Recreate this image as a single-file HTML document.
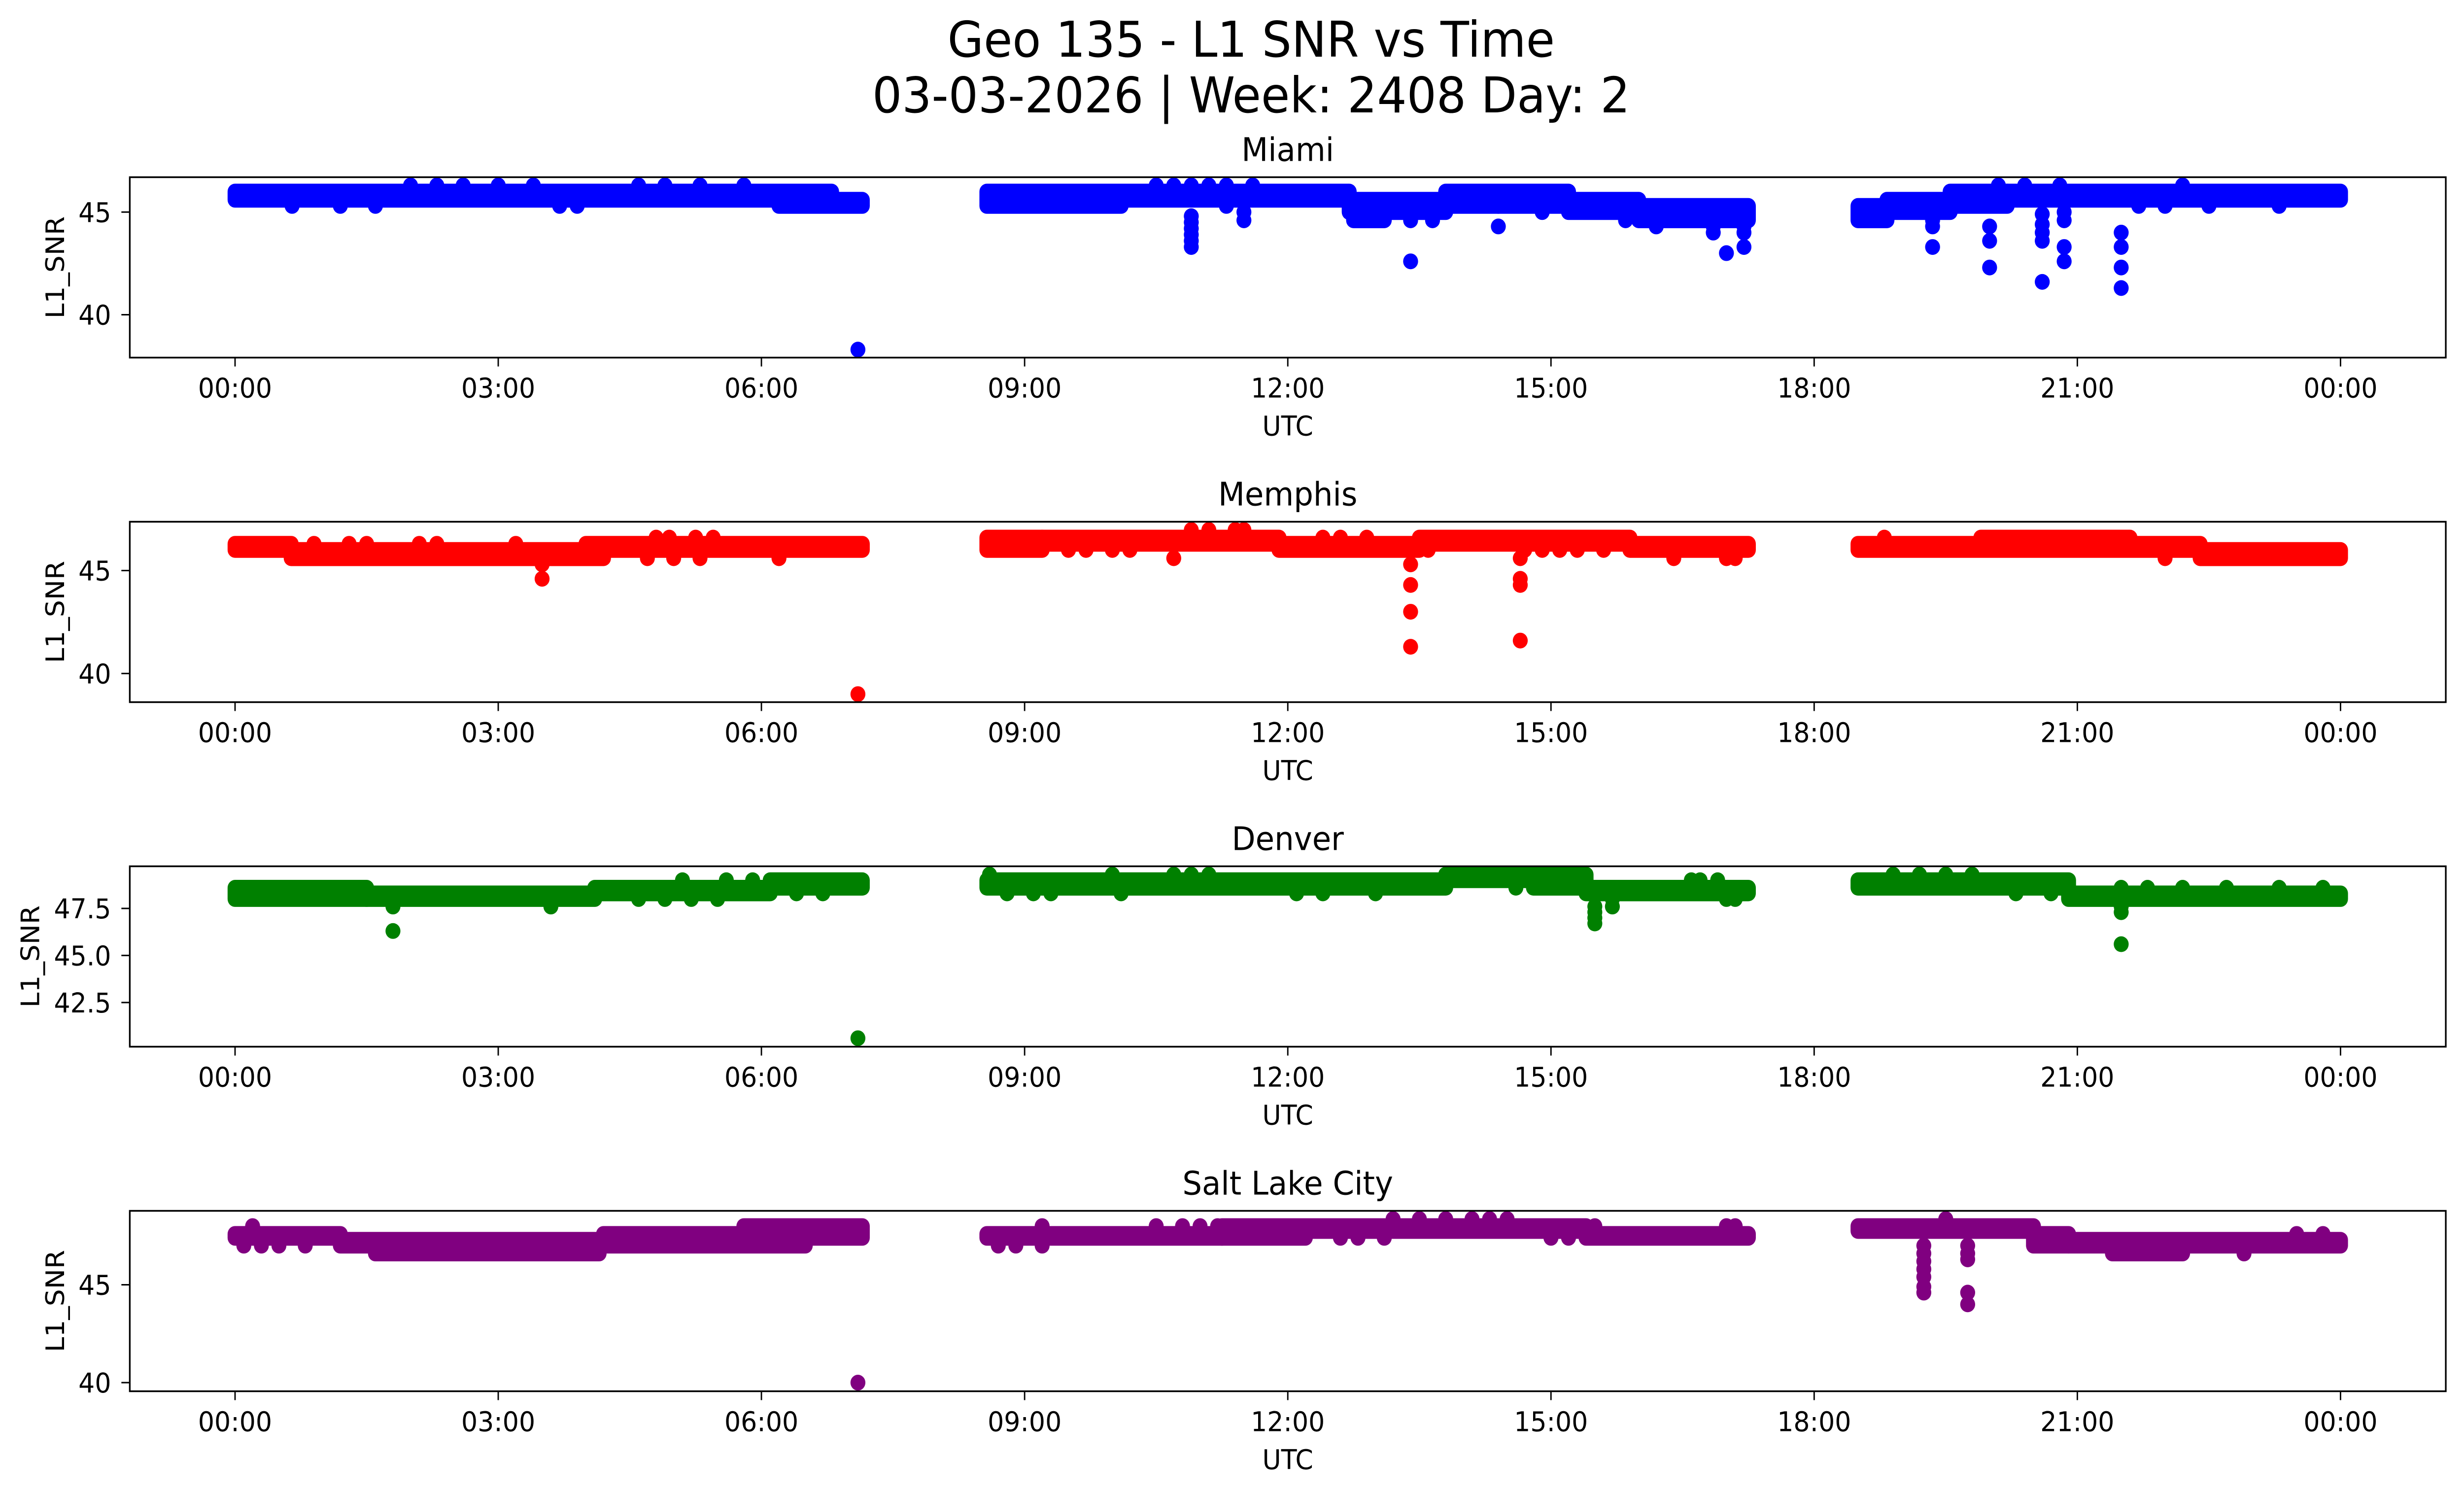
<!DOCTYPE html>
<html><head><meta charset="utf-8">
<style>
html,body{margin:0;padding:0;background:#fff;overflow:hidden;width:100vw;height:100vh;}
svg{display:block;width:100vw;height:100vh;}
text{font-family:"DejaVu Sans","Liberation Sans",sans-serif;fill:#000;}
</style></head>
<body>
<svg id="fig" viewBox="0 0 5278 3033" preserveAspectRatio="none" xmlns="http://www.w3.org/2000/svg">
<rect width="5278" height="3033" fill="#fff"/>
<text x="2680" y="115" font-size="100" text-anchor="middle">Geo 135 - L1 SNR vs Time</text>
<text x="2680" y="228" font-size="100" text-anchor="middle">03-03-2026 | Week: 2408 Day: 2</text>
</svg>
<script>
// ---- data ----
const stations = ["Miami", "Memphis", "Denver", "Salt Lake City"];
const colors = ["#0000ff", "#ff0000", "#008000", "#800080"];
const yLimits = [[37.91, 46.70], [38.61, 47.37], [40.15, 49.74], [39.56, 48.78]];
const yTicks = [[40, 45], [40, 45], [42.5, 45.0, 47.5], [40, 45]];
const yTickLabels = [["40", "45"], ["40", "45"], ["42.5", "45.0", "47.5"], ["40", "45"]];
const xTickHours = [0, 3, 6, 9, 12, 15, 18, 21, 24];
const xTickLabels = ["00:00", "03:00", "06:00", "09:00", "12:00", "15:00", "18:00", "21:00", "00:00"];

// bands: [startHour, endHour, lowSNR, highSNR] (dense point clusters)
const miamiBands = [[0,6.8,45.6,46.0],[6.2,7.15,45.3,45.6],[8.57,12.7,45.6,46.0],[8.57,10.1,45.3,45.6],[12.7,13.8,45.0,45.6],[12.75,13.1,44.6,45.0],[13.8,15.2,45.3,46.0],[15.2,16.0,45.0,45.6],[16.0,17.25,44.6,45.3],[18.5,18.83,44.6,45.3],[18.83,19.55,45.0,45.6],[19.55,20.2,45.3,46.0],[20.2,24,45.6,46.0]];
const memphisBands = [[0,0.64,46.0,46.3],[0.64,4.2,45.6,46.0],[4.0,7.15,46.0,46.3],[8.57,9.2,46.0,46.6],[9.2,11.9,46.3,46.6],[11.9,13.5,46.0,46.3],[13.5,15.9,46.3,46.6],[15.9,17.25,46.0,46.3],[18.5,22.4,46.0,46.3],[19.9,21.6,46.3,46.6],[22.4,24,45.6,46.0]];
const denverBands = [[0,1.5,48.0,48.6],[1.5,4.1,48.0,48.3],[4.1,6.1,48.3,48.6],[6.1,7.15,48.6,49.0],[8.57,13.8,48.6,49.0],[13.8,15.4,49.0,49.3],[14.8,15.4,48.6,49.0],[15.4,17.25,48.3,48.6],[18.5,20.9,48.6,49.0],[20.9,24,48.0,48.3]];
const slcBands = [[0,1.2,47.4,47.6],[1.2,4.2,47.0,47.3],[1.6,4.15,46.6,47.0],[4.2,6.5,47.0,47.6],[5.8,7.15,47.4,48.0],[8.57,11.25,47.4,47.6],[11.25,15.4,47.75,48.0],[11.25,12.2,47.4,47.75],[15.4,17.25,47.4,47.6],[18.5,20.5,47.75,48.0],[20.5,20.9,47.0,47.6],[20.9,24,47.0,47.3],[21.4,22.2,46.6,47.0]];

// individual points: [hour, SNR]
const miamiPoints = [[2.0,46.3],[2.3,46.3],[2.6,46.3],[3.0,46.3],[3.4,46.3],[4.6,46.3],[4.9,46.3],[5.3,46.3],[5.8,46.3],[10.5,46.3],[10.7,46.3],[10.9,46.3],[11.1,46.3],[11.3,46.3],[11.6,46.3],[20.1,46.3],[20.4,46.3],[20.8,46.3],[22.2,46.3],[0.65,45.3],[1.2,45.3],[1.6,45.3],[3.7,45.3],[3.9,45.3],[11.3,45.3],[14.4,45.3],[21.7,45.3],[22.0,45.3],[22.5,45.3],[23.3,45.3],[7.1,38.3],[10.9,44.8],[10.9,44.5],[10.9,44.2],[10.9,43.9],[10.9,43.6],[10.9,43.3],[11.5,45.0],[11.5,44.6],[13.4,44.6],[13.4,44.9],[13.4,42.6],[13.65,44.6],[14.4,44.3],[14.9,45.0],[15.85,44.6],[16.2,44.3],[16.85,44.0],[16.85,44.3],[17.0,43.0],[17.2,43.3],[17.2,44.3],[17.2,44.0],[19.35,44.6],[19.35,44.3],[19.35,43.3],[20.0,44.3],[20.0,43.6],[20.0,42.3],[20.6,44.9],[20.6,44.4],[20.6,44.0],[20.6,43.6],[20.6,41.6],[20.85,45.0],[20.85,44.6],[20.85,43.3],[20.85,42.6],[21.5,44.0],[21.5,43.3],[21.5,42.3],[21.5,41.3]];
const memphisPoints = [[0.9,46.3],[1.3,46.3],[1.5,46.3],[2.1,46.3],[2.3,46.3],[3.2,46.3],[4.8,46.6],[4.95,46.6],[5.25,46.6],[5.45,46.6],[12.4,46.6],[12.6,46.6],[12.9,46.6],[18.8,46.6],[10.9,46.97],[11.1,46.97],[11.4,46.97],[11.5,46.97],[4.7,45.6],[5.0,45.6],[5.3,45.6],[6.2,45.6],[10.7,45.6],[16.4,45.6],[17.0,45.6],[17.1,45.6],[22.0,45.6],[9.5,46.0],[9.7,46.0],[10.0,46.0],[10.2,46.0],[13.6,46.0],[14.7,46.0],[14.9,46.0],[15.1,46.0],[15.3,46.0],[15.6,46.0],[3.5,45.3],[3.5,44.6],[7.1,39.0],[13.4,45.3],[13.4,44.3],[13.4,43.0],[13.4,41.3],[14.65,45.6],[14.65,44.6],[14.65,44.3],[14.65,41.6]];
const denverPoints = [[5.1,49.0],[5.6,49.0],[5.9,49.0],[16.6,49.0],[16.7,49.0],[16.9,49.0],[8.6,49.3],[10.0,49.3],[10.7,49.3],[10.9,49.3],[11.1,49.3],[18.9,49.3],[19.2,49.3],[19.5,49.3],[19.8,49.3],[6.4,48.3],[6.7,48.3],[8.8,48.3],[9.1,48.3],[9.3,48.3],[10.1,48.3],[12.1,48.3],[12.4,48.3],[13.0,48.3],[20.3,48.3],[20.7,48.3],[4.6,48.0],[4.9,48.0],[5.2,48.0],[5.5,48.0],[15.7,48.0],[17.0,48.0],[17.1,48.0],[14.6,48.6],[21.5,48.6],[21.8,48.6],[22.2,48.6],[22.7,48.6],[23.3,48.6],[23.8,48.6],[1.8,47.6],[1.8,46.3],[3.6,47.6],[7.1,40.6],[15.5,47.6],[15.5,47.3],[15.5,47.0],[15.5,46.7],[15.7,47.6],[21.5,47.6],[21.5,47.3],[21.5,45.6]];
const slcPoints = [[0.2,48.0],[9.2,48.0],[10.5,48.0],[10.8,48.0],[11.0,48.0],[11.2,48.0],[15.5,48.0],[17.0,48.0],[17.1,48.0],[13.2,48.36],[13.5,48.36],[13.8,48.36],[14.1,48.36],[14.3,48.36],[14.5,48.36],[19.5,48.36],[0.1,47.0],[0.3,47.0],[0.5,47.0],[0.8,47.0],[8.7,47.0],[8.9,47.0],[9.2,47.0],[12.6,47.4],[12.8,47.4],[13.1,47.4],[15.0,47.4],[15.2,47.4],[22.9,46.6],[23.5,47.6],[23.8,47.6],[7.1,40.0],[19.25,47.0],[19.25,46.6],[19.25,46.2],[19.25,45.8],[19.25,45.4],[19.25,44.9],[19.25,44.6],[19.75,47.0],[19.75,46.6],[19.75,46.3],[19.75,44.6],[19.75,44.0]];

const allBands = [miamiBands, memphisBands, denverBands, slcBands];
const allPoints = [miamiPoints, memphisPoints, denverPoints, slcPoints];

// ---- layout ----
const NS = "http://www.w3.org/2000/svg";
const svg = document.getElementById("fig");
const axLeft = 278, axRight = 5239;
const axTops = [359.5, 1058.5, 1757.5, 2456.5];
const axH = 366;
const R = 16;
const xMin = -1.2, xMax = 25.2;
function xScale(h){ return axLeft + (h - xMin) / (xMax - xMin) * (axRight - axLeft); }
function mk(tag, attrs, parent){
  const e = document.createElementNS(NS, tag);
  for (const k in attrs) e.setAttribute(k, attrs[k]);
  (parent || svg).appendChild(e);
  return e;
}
const slug = ["miami", "memphis", "denver", "salt-lake-city"];

stations.forEach((name, i) => {
  const top = axTops[i], bot = top + axH;
  const [lo, hi] = yLimits[i];
  const yScale = v => bot - (v - lo) / (hi - lo) * axH;
  const g = mk("g", {});
  
  
  const clipId = "clip" + i;
  const cp = mk("clipPath", {id: clipId}, g);
  mk("rect", {x: axLeft, y: top, width: axRight - axLeft, height: axH}, cp);
  const marks = mk("g", {"clip-path": "url(#" + clipId + ")", fill: colors[i]}, g);
  
  

  allBands[i].forEach(b => {
    const x0 = xScale(b[0]) - R, x1 = xScale(b[1]) + R;
    const y0 = yScale(b[3]) - R, y1 = yScale(b[2]) + R;
    const r = mk("rect", {x: x0, y: y0, width: x1 - x0, height: y1 - y0, rx: R, ry: R}, marks);
    
    
  });
  allPoints[i].forEach(p => {
    const c = mk("circle", {cx: xScale(p[0]), cy: yScale(p[1]), r: R}, marks);
    
    
  });

  const frame = mk("rect", {x: axLeft, y: top, width: axRight - axLeft, height: axH, fill: "none", stroke: "#000", "stroke-width": 3.5}, g);
  
  

  yTicks[i].forEach((t, k) => {
    const y = yScale(t);
    const tl = mk("line", {x1: axLeft - 18, x2: axLeft, y1: y, y2: y, stroke: "#000", "stroke-width": 3}, g);
    
    
    const tx = mk("text", {x: axLeft - 40, y: y + 20, "font-size": 55, "text-anchor": "end"}, g);
    tx.textContent = yTickLabels[i][k];
    
    
  });
  xTickHours.forEach((h, k) => {
    const x = xScale(h);
    const tl = mk("line", {x1: x, x2: x, y1: bot, y2: bot + 18, stroke: "#000", "stroke-width": 3}, g);
    
    
    const tx = mk("text", {x: x, y: bot + 81, "font-size": 55, "text-anchor": "middle"}, g);
    tx.textContent = xTickLabels[k];
    
    
  });
  const cx = (axLeft + axRight) / 2;
  const tt = mk("text", {x: cx, y: top - 33, "font-size": 66, "text-anchor": "middle"}, g);
  tt.textContent = name;
  
  
  const xl = mk("text", {x: cx, y: bot + 158, "font-size": 55, "text-anchor": "middle"}, g);
  xl.textContent = "UTC";
  
  
  const lx = (i === 2) ? 84 : 137;
  const cy = top + axH / 2;
  const yl = mk("text", {x: lx, y: cy, "font-size": 55, "text-anchor": "middle", transform: "rotate(-90 " + lx + " " + cy + ")"}, g);
  yl.textContent = "L1_SNR";
  
  
});
</script>
</body></html>
